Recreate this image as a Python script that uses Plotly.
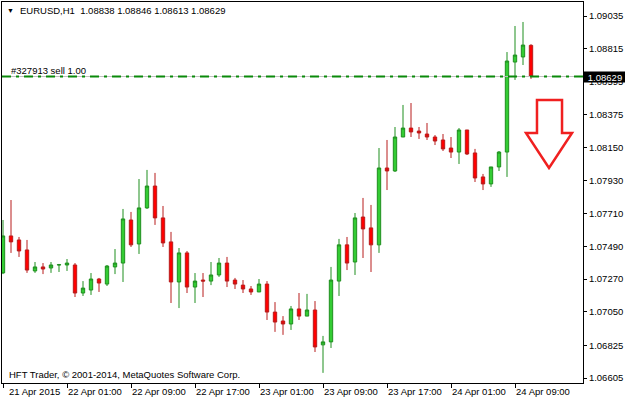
import pandas as pd
import plotly.graph_objects as go

# ---- data (EURUSD H1) ----
times = pd.date_range("2015-04-21 17:00", periods=67, freq="h")

opens = [1.07311, 1.07559, 1.07532, 1.07465, 1.07324, 1.07351, 1.07344, 1.07364, 1.07364, 1.07364,
         1.07176, 1.07196, 1.07270, 1.07236, 1.07351, 1.07377, 1.07666, 1.07505, 1.07747, 1.07894,
         1.07680, 1.07519, 1.07250, 1.07445, 1.07216, 1.07263, 1.07256, 1.07297, 1.07377, 1.07263,
         1.07229, 1.07203, 1.07183, 1.07236, 1.07048, 1.06988, 1.06968, 1.07069, 1.07021, 1.07062,
         1.06828, 1.06848, 1.07256, 1.07499, 1.07384, 1.07686, 1.07613, 1.07499, 1.08015, 1.07995,
         1.08223, 1.08283, 1.08263, 1.08243, 1.08223, 1.08203, 1.08149, 1.08122, 1.08270, 1.08116,
         1.07955, 1.07908, 1.08022, 1.08122, 1.08726, 1.08760, 1.08838]
highs = [1.07666, 1.07800, 1.07552, 1.07532, 1.07384, 1.07377, 1.07384, 1.07371, 1.07404, 1.07377,
         1.07256, 1.07310, 1.07277, 1.07364, 1.07471, 1.07740, 1.07720, 1.07941, 1.08002, 1.07982,
         1.07760, 1.07586, 1.07478, 1.07458, 1.07310, 1.07310, 1.07384, 1.07411, 1.07418, 1.07277,
         1.07263, 1.07223, 1.07270, 1.07256, 1.07115, 1.07021, 1.07089, 1.07176, 1.07170, 1.07122,
         1.06888, 1.07351, 1.07539, 1.07552, 1.07713, 1.07814, 1.07767, 1.08149, 1.08203, 1.08290,
         1.08438, 1.08451, 1.08290, 1.08317, 1.08236, 1.08243, 1.08223, 1.08283, 1.08270, 1.08143,
         1.07975, 1.08022, 1.08129, 1.08793, 1.08968, 1.08995, 1.08846]
lows = [1.07303, 1.07445, 1.07418, 1.07311, 1.07311, 1.07303, 1.07311, 1.07317, 1.07324, 1.07149,
        1.07156, 1.07163, 1.07183, 1.07223, 1.07303, 1.07250, 1.07485, 1.07438, 1.07740, 1.07633,
        1.07485, 1.07109, 1.07075, 1.07176, 1.07109, 1.07149, 1.07229, 1.07284, 1.07216, 1.07203,
        1.07176, 1.07163, 1.07183, 1.06995, 1.06915, 1.06895, 1.06928, 1.06995, 1.07021, 1.06780,
        1.06640, 1.06807, 1.07156, 1.07330, 1.07297, 1.07411, 1.07317, 1.07445, 1.07867, 1.07988,
        1.08223, 1.08223, 1.08210, 1.08203, 1.08169, 1.08129, 1.08082, 1.08042, 1.08102, 1.07921,
        1.07867, 1.07888, 1.07995, 1.07955, 1.08606, 1.08706, 1.08613]
closes = [1.07559, 1.07519, 1.07458, 1.07330, 1.07351, 1.07337, 1.07364, 1.07366, 1.07377, 1.07176,
          1.07209, 1.07270, 1.07243, 1.07357, 1.07377, 1.07673, 1.07499, 1.07747, 1.07894, 1.07680,
          1.07512, 1.07250, 1.07445, 1.07216, 1.07256, 1.07256, 1.07297, 1.07377, 1.07256, 1.07236,
          1.07203, 1.07183, 1.07236, 1.07048, 1.06981, 1.06968, 1.07069, 1.07021, 1.07062, 1.06814,
          1.06848, 1.07263, 1.07499, 1.07377, 1.07680, 1.07606, 1.07499, 1.08015, 1.07995, 1.08223,
          1.08283, 1.08257, 1.08250, 1.08223, 1.08196, 1.08143, 1.08122, 1.08270, 1.08109, 1.07948,
          1.07908, 1.08022, 1.08122, 1.08733, 1.08773, 1.08840, 1.08629]

price_ticks = [1.09035, 1.08815, 1.08595, 1.08375, 1.08150, 1.07930, 1.07710, 1.07490,
               1.07270, 1.07050, 1.06825, 1.06605]
price_labels = ["1.09035", "1.08815", "1.08595", "1.08375", "1.08150", "1.07930", "1.07710",
                "1.07490", "1.07270", "1.07050", "1.06825", "1.06605"]

time_ticks = ["2015-04-21 17:00", "2015-04-22 01:00", "2015-04-22 09:00", "2015-04-22 17:00",
              "2015-04-23 01:00", "2015-04-23 09:00", "2015-04-23 17:00", "2015-04-24 01:00",
              "2015-04-24 09:00"]
time_labels = ["21 Apr 2015", "22 Apr 01:00", "22 Apr 09:00", "22 Apr 17:00", "23 Apr 01:00",
               "23 Apr 09:00", "23 Apr 17:00", "24 Apr 01:00", "24 Apr 09:00"]

current_price = 1.08629
symbol = "EURUSD,H1"
order_label = "#327913 sell 1.00"
copyright_text = "HFT Trader, © 2001-2014, MetaQuotes Software Corp."

FONT = "Liberation Sans, Arial, sans-serif"
FS = 9.5

fig = go.Figure()
fig.add_trace(go.Candlestick(
    x=times, open=opens, high=highs, low=lows, close=closes,
    increasing=dict(line=dict(color="#1f8f1f", width=1), fillcolor="#33cc33"),
    decreasing=dict(line=dict(color="#b81c1c", width=1), fillcolor="#ff0000"),
    whiskerwidth=0, showlegend=False, hoverinfo="skip",
))

x_range = ["2015-04-21 16:52:30", "2015-04-24 17:30:00"]

# current price (gray) and order line (green dash-dot)
fig.add_shape(type="line", xref="paper", x0=0, x1=1, yref="y", y0=current_price, y1=current_price,
              line=dict(color="#c0c0c0", width=1), layer="above")
fig.add_shape(type="line", xref="paper", x0=0, x1=1, yref="y", y0=current_price, y1=current_price,
              line=dict(color="#0a8a0a", width=2, dash="9px,5px,3px,5px"), layer="above")

# red down arrow (drawn object)
arrow_path = ("M 0.9208 0.7428 L 0.9639 0.7428 L 0.9639 0.6562 L 0.9811 0.6562 "
              "L 0.9415 0.5643 L 0.9019 0.6562 L 0.9208 0.6562 Z")
fig.add_shape(type="path", xref="paper", yref="paper", path=arrow_path,
              line=dict(color="#f02020", width=2.5), fillcolor="rgba(255,255,255,0)", layer="above")

ann = []
# header
ann.append(dict(xref="paper", yref="paper", x=0.0055, y=0.978, xanchor="left", yanchor="middle",
                text="▼", showarrow=False, font=dict(family=FONT, size=7, color="black")))
ann.append(dict(xref="paper", yref="paper", x=0.0275, y=0.978, xanchor="left", yanchor="middle",
                text=f"{symbol}  {opens[-1]:.5f} {highs[-1]:.5f} {lows[-1]:.5f} {closes[-1]:.5f}",
                showarrow=False, font=dict(family=FONT, size=FS, color="black")))
# order label
ann.append(dict(xref="paper", yref="paper", x=0.012, y=0.8197, xanchor="left", yanchor="middle",
                text=order_label, showarrow=False, font=dict(family=FONT, size=FS, color="black")))
# copyright
ann.append(dict(xref="paper", yref="paper", x=0.0085, y=0.021, xanchor="left", yanchor="middle",
                text=copyright_text, showarrow=False, font=dict(family=FONT, size=FS, color="black")))
# x labels (left-aligned at ticks)
for i, (t, lab) in enumerate(zip(time_ticks, time_labels)):
    ann.append(dict(xref="x", yref="paper", x=t, y=-0.0228, xanchor="left", yanchor="middle",
                    xshift=4 if i == 0 else -1, text=lab, showarrow=False,
                    font=dict(family=FONT, size=FS, color="black")))
# current price box
ann.append(dict(xref="paper", yref="y", x=1, y=current_price, xanchor="left", yanchor="middle",
                text=f"{current_price:.5f}", showarrow=False, bgcolor="black", width=42, height=10,
                align="center", borderpad=0, font=dict(family=FONT, size=FS, color="white")))

fig.update_layout(
    width=625, height=400,
    margin=dict(l=2, r=42, t=2, b=17),
    paper_bgcolor="white", plot_bgcolor="white",
    boxgap=0.4,
    annotations=ann,
    font=dict(family=FONT, size=FS, color="black"),
    xaxis=dict(range=x_range, rangeslider=dict(visible=False), showgrid=False, zeroline=False,
               showline=True, linecolor="black", linewidth=1, mirror=True,
               ticks="outside", ticklen=4, tickcolor="black", tickvals=time_ticks,
               showticklabels=False),
    yaxis=dict(range=[1.06572, 1.09129], side="right", showgrid=False, zeroline=False,
               showline=True, linecolor="black", linewidth=1, mirror=True,
               ticks="outside", ticklen=3, tickcolor="black",
               tickvals=price_ticks, ticktext=price_labels,
               tickfont=dict(family=FONT, size=FS, color="black")),
)

fig.write_html("out.html", config={"displayModeBar": False},
               post_script="document.body.style.margin='0';document.body.style.padding='0';")
